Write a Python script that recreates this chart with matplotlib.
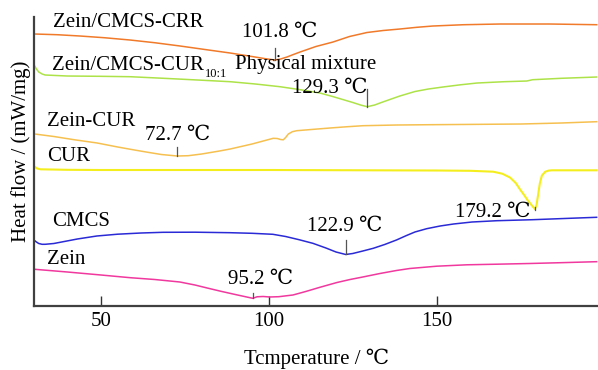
import matplotlib
matplotlib.use("Agg")
import matplotlib.pyplot as plt

plt.rcParams['font.family'] = ['Liberation Serif', 'DejaVu Serif', 'Noto Sans CJK SC']

# DSC curves: temperature (C) and heat flow (arbitrary, offset per curve)
crr_t = [30.3, 37, 43.8, 51, 58.7, 66, 73.6, 81, 88.5, 95.9, 99, 101.8, 103.5, 105.4, 107.3,
         109.3, 114, 119.1, 124, 129.2, 134, 139, 144, 148.8, 158, 168.8, 183.7, 197.6]
crr_h = [272, 271.3, 270, 268.3, 266, 263.3, 260, 256.5, 253, 249, 247.3, 246, 247, 249, 251.5,
         254, 259.5, 264, 269.5, 273.5, 275.5, 277, 278.7, 280, 281.3, 282, 282, 281.3]

mix_t = [30.3, 30.8, 31.5, 32.5, 33.4, 40, 50, 58.7, 70, 80, 88.5, 96, 103.3, 109, 115.2, 119,
         122, 125, 127.5, 129.3, 131.5, 133.5, 135.6, 139, 143.5, 147.5, 151.8, 157, 162, 170,
         176.8, 178.5, 187, 197.6]
mix_h = [240, 237, 234, 232, 231, 230, 229.7, 229.3, 227.5, 225.8, 224.3, 222, 219.3, 216.5, 213,
         209.5, 206.5, 203.5, 200.8, 199.3, 201, 203.5, 206, 210, 214.5, 217, 219, 221.2, 223,
         224.3, 225, 226.3, 227.7, 229]

zc_t = [30.3, 36, 42, 48.9, 55, 60, 64, 68, 72.7, 76, 80, 85.3, 88.5, 95, 101.3, 102.5, 103.5,
        104.3, 105, 105.8, 107, 108.3, 113, 118.2, 123, 128, 138, 148, 160, 175, 187, 197.6]
zc_h = [172, 169.5, 166.3, 163, 159, 156, 153.7, 151.5, 150, 150.3, 152, 155, 157, 162, 167.7,
        167.5, 166.5, 166.2, 168.5, 172, 174.3, 175.3, 176.6, 178, 179.2, 180.3, 181, 181.3,
        181.6, 182, 183, 184.3]

cur_t = [30.3, 31, 32, 40, 50, 100, 150, 160, 166.8, 169.5, 171.8, 173.5, 174.8, 176, 177,
         178.2, 179.2, 179.7, 180.2, 180.7, 181.3, 182.3, 183.3, 184.3, 197.6]
cur_h = [139.3, 137.5, 136.7, 136.2, 136, 136, 135.5, 135.2, 134.3, 132.3, 128.5, 123, 116.5,
         111, 106, 101, 97, 101, 112, 123, 130.5, 134.3, 135.4, 135.7, 135.7]

cmcs_t = [30.3, 30.8, 31.5, 32.5, 33.4, 36, 38.8, 43, 48.8, 55, 62, 68.5, 78, 88.4, 95, 101.2,
          105, 109, 113.1, 117, 120, 122.9, 125, 128, 131.1, 134.5, 138, 141, 143.5, 147, 151,
          155, 160.5, 168, 178.6, 188, 197.6]
cmcs_h = [65.3, 64, 62.5, 61.7, 61.7, 62.5, 64.3, 67, 70, 71.8, 73, 73.7, 73.8, 73.3, 72.7, 71.7,
          69.5, 66.3, 62.7, 58, 54, 51.5, 52.5, 55, 57.7, 61.5, 66, 70.5, 74, 77.3, 80, 82, 84,
          85.3, 86.3, 87.5, 88.7]

zein_t = [30.3, 40, 50, 58.7, 66, 73.5, 78, 82, 86, 90, 93, 95.2, 96.5, 98.3, 100.3, 103, 107.2,
          111, 115, 120.3, 124.2, 128, 133.1, 138, 142, 150, 159, 168, 177.7, 188, 197.6]
zein_h = [36.7, 34, 31, 28.3, 26.5, 24, 21, 17.7, 14.5, 11.5, 9.3, 7.7, 9.2, 9.5, 9, 9.3, 11,
          14.5, 18.5, 23.5, 26.5, 29, 32.5, 35.5, 37.5, 39.8, 41.2, 41.8, 42.5, 43.4, 44.3]

fig = plt.figure(figsize=(5.98, 3.70), dpi=100)
ax = fig.add_axes([0.0564, 0.173, 0.9436, 0.781])

ax.plot(crr_t, crr_h, color='#F07A2A', lw=1.1)
ax.plot(mix_t, mix_h, color='#ADE348', lw=1.1)
ax.plot(zc_t, zc_h, color='#F6C050', lw=1.1)
ax.plot(cur_t, cur_h, color='#F5EE1E', lw=1.5)
ax.plot(cmcs_t, cmcs_h, color='#2A2AD6', lw=1.1)
ax.plot(zein_t, zein_h, color='#F0389E', lw=1.1)

# peak markers
peaks = [(101.8, 246, 258), (129.3, 199, 217), (72.7, 150, 159),
         (95.2, 8, 13.3), (122.9, 51.5, 66), (179.2, 96, 99.5)]
for t, y0, y1 in peaks:
    ax.plot([t, t], [y0, y1], color='#555555', lw=0.9)

fs = 15
ax.text(35.7, 279, 'Zein/CMCS-CRR', fontsize=fs)
ax.text(35.4, 236, 'Zein/CMCS-CUR', fontsize=fs)
ax.text(81.0, 229, '10:1', fontsize=9)
ax.text(89.9, 237, 'Physical mixture', fontsize=fs)
ax.text(92.0, 268.7, '101.8 ℃', fontsize=fs)
ax.text(106.9, 213.3, '129.3 ℃', fontsize=fs)
ax.text(34.0, 180, 'Zein-CUR', fontsize=fs)
ax.text(63.1, 166, '72.7 ℃', fontsize=fs)
ax.text(34.0, 145.3, 'CUR', fontsize=fs)
ax.text(35.5, 80, 'CMCS', fontsize=fs)
ax.text(34.0, 41.7, 'Zein', fontsize=fs)
ax.text(87.8, 22, '95.2 ℃', fontsize=fs)
ax.text(111.3, 75.3, '122.9 ℃', fontsize=fs)
ax.text(155.3, 89.3, '179.2 ℃', fontsize=fs)

ax.set_xlim(30, 198)
ax.set_ylim(0, 289)
ax.set_xticks([50, 100, 150])
ax.set_yticks([])
ax.tick_params(axis='x', direction='in', length=7, width=1, pad=4.5,
               labelsize=fs, color='#333333')
for s in ['top', 'right']:
    ax.spines[s].set_visible(False)
for s in ['left', 'bottom']:
    ax.spines[s].set_linewidth(1.6)
    ax.spines[s].set_color('#404040')

fig.text(21/598, 1 - 151/370, 'Heat flow / (mW/mg)', rotation=90,
         ha='center', va='center', fontsize=fs)
fig.text(316.5/598, 1 - 359/370, 'Tcmperature / ℃', ha='center',
         va='center', fontsize=fs)

fig.savefig('out.png', dpi=100)
